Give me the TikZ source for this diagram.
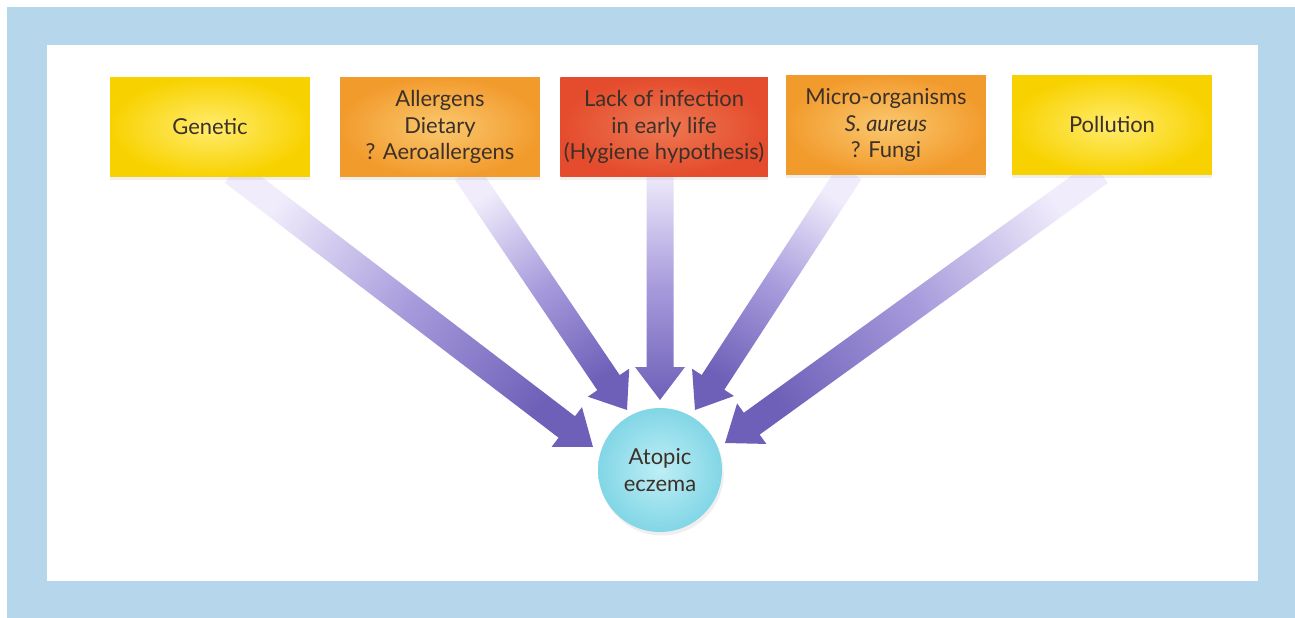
\documentclass[tikz,border=0pt]{standalone}
\usepackage{fontspec}
\setmainfont{Lato}
\usepackage{tikz}
\usetikzlibrary{calc,shadows}
\definecolor{frame}    {RGB}{182,214,236}
\definecolor{yel}      {RGB}{248,210,  0}
\definecolor{yellight} {RGB}{255,236,110}
\definecolor{ora}      {RGB}{242,155, 45}
\definecolor{oralight} {RGB}{250,200,110}
\definecolor{hot}      {RGB}{228, 76, 45}
\definecolor{hotlight} {RGB}{238,120, 82}
\definecolor{pale}     {RGB}{240,236,251}
\definecolor{lilac}    {RGB}{168,155,220}
\definecolor{arrowdark}{RGB}{110, 96,184}
\definecolor{cyanout}  {RGB}{130,214,230}
\definecolor{cyanin}   {RGB}{190,238,246}
\definecolor{ink}      {RGB}{ 60, 48, 40}

% wide shaded arrow from #1 to #2
\newcommand{\fatarrow}[2]{%
  \pgfmathanglebetweenpoints{\pgfpointanchor{#1}{center}}{\pgfpointanchor{#2}{center}}%
  \pgfmathsetmacro{\fatang}{\pgfmathresult+90}%
  \coordinate (hb) at ($(#2)!0.66cm!(#1)$);
  \shade[fatarrow,shading angle=\fatang]
    ($(#1)!0.27cm!90:(#2)$) -- ($(hb)!0.27cm!90:(#2)$) -- ($(hb)!0.5cm!90:(#2)$)
    -- (#2) -- ($(hb)!0.5cm!-90:(#2)$) -- ($(hb)!0.27cm!-90:(#2)$)
    -- ($(#1)!0.27cm!-90:(#2)$) -- cycle;
}

\begin{document}
\begin{tikzpicture}[x=0.02cm,y=-0.02cm,
    every node/.style={text=ink,align=center,inner sep=2pt,font=\fontsize{12.5}{15}\selectfont},
    factor/.style={rectangle,minimum width=4cm,minimum height=1.98cm,
      drop shadow={shadow xshift=0pt,shadow yshift=-2pt,opacity=0.12}},
    fatarrow/.style={top color=pale,bottom color=arrowdark,middle color=lilac}]

    \useasboundingbox (0,0) rectangle (1295,618);
    \fill[white] (0,0) rectangle (1295,618);
    \fill[frame] (7,7) rectangle (1295,618);
    \fill[white] (47,45) rectangle (1258,581);

    % arrows
    \coordinate (s1) at (233,172);  \coordinate (t1) at (593,447);
    \coordinate (s2) at (466,172);  \coordinate (t2) at (627,410);
    \coordinate (s3) at (660,172);  \coordinate (t3) at (660,400);
    \coordinate (s4) at (850,172);  \coordinate (t4) at (695,410);
    \coordinate (s5) at (1100,172); \coordinate (t5) at (725,443);
    \foreach \i in {1,...,5} {\fatarrow{s\i}{t\i}}

    \node[factor,inner color=yellight,outer color=yel] (gen)    at(210,127)  {Genetic};
    \node[factor,inner color=oralight,outer color=ora] (allerg) at(440,127)  {Allergens\\Dietary\\? Aeroallergens};
    \node[factor,inner color=hotlight,outer color=hot] (infect) at(664,127)  {Lack of infection\\in early life\\(Hygiene hypothesis)};
    \node[factor,inner color=oralight,outer color=ora] (micro)  at(886,125)  {Micro-organisms\\\textit{S. aureus}\\? Fungi};
    \node[factor,inner color=yellight,outer color=yel] (poll)   at(1112,125) {Pollution};

    \node[circle,minimum size=2.48cm,inner color=cyanin,outer color=cyanout,
      drop shadow={shadow xshift=1pt,shadow yshift=-2pt,opacity=0.12}] (ecz) at(660,470) {Atopic\\eczema};

\end{tikzpicture}
\end{document}
